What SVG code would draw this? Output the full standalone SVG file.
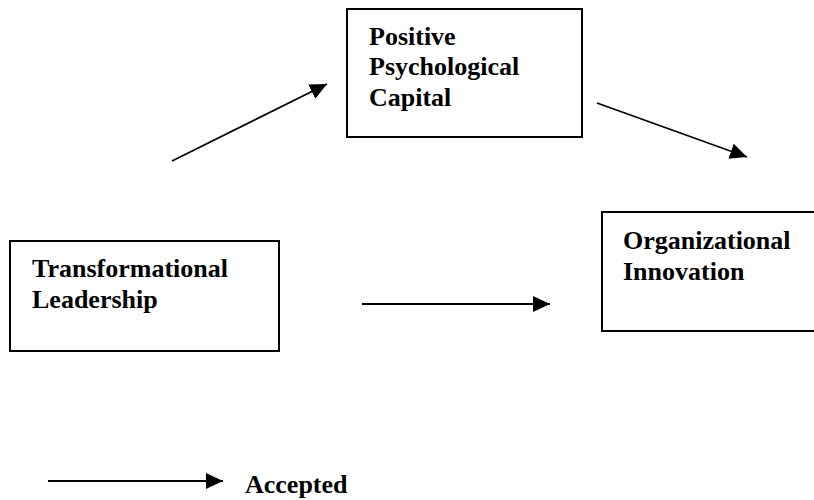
<svg xmlns="http://www.w3.org/2000/svg" width="814" height="500" viewBox="0 0 814 500">
<style>
  .box { fill: #fff; stroke: #000; stroke-width: 2; }
  .lbl { font-family: "Liberation Serif", "Times New Roman", serif; font-weight: bold; font-size: 26px; fill: #000; }
  .conn { stroke: #000; stroke-width: 1.8; fill: none; marker-end: url(#ah); }
</style>
<defs>
  <marker id="ah" markerUnits="userSpaceOnUse" markerWidth="18" markerHeight="16" refX="17" refY="8" orient="auto" viewBox="0 0 18 16">
    <path d="M0,0 L17,8 L0,16 Z" fill="#000"/>
  </marker>
</defs>
<rect width="814" height="500" fill="#fff"/>
<g id="connectors">
  <line class="conn" x1="172" y1="161" x2="327" y2="84"/>
  <line class="conn" x1="597" y1="103" x2="747" y2="157"/>
  <line class="conn" x1="362" y1="304" x2="550" y2="304"/>
  <line class="conn" x1="48" y1="481" x2="223" y2="481"/>
</g>
<g id="node-ppc">
  <rect class="box" x="347" y="9" width="235" height="128"/>
  <text class="lbl" x="369" y="45">Positive</text>
  <text class="lbl" x="369" y="75">Psychological</text>
  <text class="lbl" x="369" y="106">Capital</text>
</g>
<g id="node-tl">
  <rect class="box" x="10" y="241" width="269" height="110"/>
  <text class="lbl" x="32" y="277">Transformational</text>
  <text class="lbl" x="32" y="308">Leadership</text>
</g>
<g id="node-oi">
  <rect class="box" x="602" y="212" width="230" height="119"/>
  <text class="lbl" x="623" y="249">Organizational</text>
  <text class="lbl" x="623" y="280">Innovation</text>
</g>
<g id="legend">
  <text class="lbl" x="245" y="493">Accepted</text>
</g>
</svg>
